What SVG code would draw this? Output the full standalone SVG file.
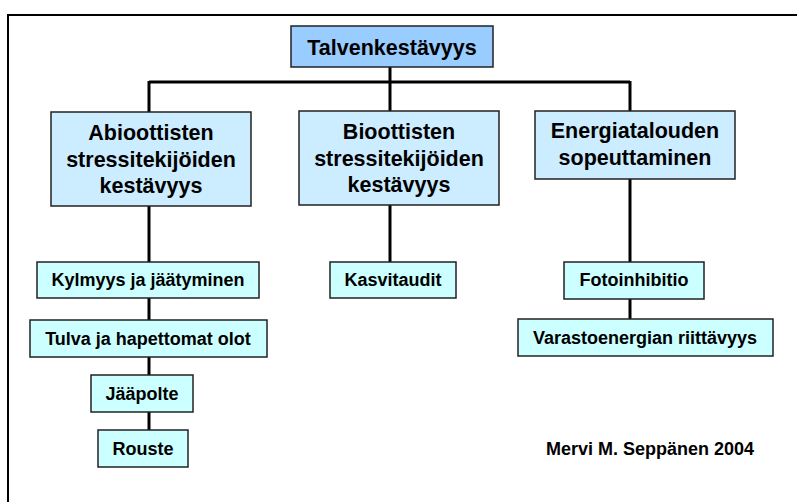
<svg xmlns="http://www.w3.org/2000/svg" width="797" height="502" viewBox="0 0 797 502">
<style>
text{font-family:"Liberation Sans",Arial,sans-serif;font-weight:bold;fill:#000;text-anchor:middle}
.box{stroke:#222;stroke-width:1.5}
.top{fill:#99CCFF}
.mid{fill:#CCECFF}
.leaf{fill:#CCFFFF}
.big{font-size:21.5px}
.sm{font-size:18px}
.conn line{stroke:#000;stroke-width:3}
</style>
<rect x="0" y="0" width="797" height="502" fill="#fff"/>
<rect x="8" y="15" width="800" height="500" fill="none" stroke="#000" stroke-width="2"/>
<g id="connectors" class="conn">
<line x1="390" y1="67" x2="390" y2="112"/>
<line x1="149" y1="82" x2="630" y2="82"/>
<line x1="149" y1="81" x2="149" y2="112"/>
<line x1="630" y1="81" x2="630" y2="111"/>
<line x1="149" y1="206" x2="149" y2="430"/>
<line x1="390" y1="205" x2="390" y2="262"/>
<line x1="630" y1="179" x2="630" y2="319"/>
</g>
<g id="n-talvenkestavyys">
<rect class="box top" x="291" y="26" width="202" height="41"/>
<text class="big" x="392" y="55">Talvenkestävyys</text>
</g>
<g id="n-abioottisten">
<rect class="box mid" x="51" y="112" width="200" height="94"/>
<text class="big" x="151" y="140">Abioottisten</text>
<text class="big" x="151" y="167">stressitekijöiden</text>
<text class="big" x="151" y="193">kestävyys</text>
</g>
<g id="n-bioottisten">
<rect class="box mid" x="299" y="111" width="200" height="94"/>
<text class="big" x="399" y="139">Bioottisten</text>
<text class="big" x="399" y="166">stressitekijöiden</text>
<text class="big" x="399" y="192">kestävyys</text>
</g>
<g id="n-energiatalouden">
<rect class="box mid" x="535" y="111" width="200" height="68"/>
<text class="big" x="635" y="138">Energiatalouden</text>
<text class="big" x="635" y="165">sopeuttaminen</text>
</g>
<g id="n-kylmyys">
<rect class="box leaf" x="37" y="262" width="222" height="36"/>
<text class="sm" x="148" y="286">Kylmyys ja jäätyminen</text>
</g>
<g id="n-tulva">
<rect class="box leaf" x="30" y="320" width="237" height="37"/>
<text class="sm" x="148" y="345">Tulva ja hapettomat olot</text>
</g>
<g id="n-jaapolte">
<rect class="box leaf" x="91" y="375" width="102" height="37"/>
<text class="sm" x="142" y="400">Jääpolte</text>
</g>
<g id="n-rouste">
<rect class="box leaf" x="98" y="430" width="90" height="37"/>
<text class="sm" x="143" y="455">Rouste</text>
</g>
<g id="n-kasvitaudit">
<rect class="box leaf" x="330" y="262" width="126" height="36"/>
<text class="sm" x="393" y="286">Kasvitaudit</text>
</g>
<g id="n-fotoinhibitio">
<rect class="box leaf" x="564" y="262" width="140" height="37"/>
<text class="sm" x="634" y="286">Fotoinhibitio</text>
</g>
<g id="n-varastoenergian">
<rect class="box leaf" x="518" y="319" width="255" height="37"/>
<text class="sm" x="645" y="344">Varastoenergian riittävyys</text>
</g>
<text class="sm" x="650" y="455">Mervi M. Seppänen 2004</text>
</svg>
